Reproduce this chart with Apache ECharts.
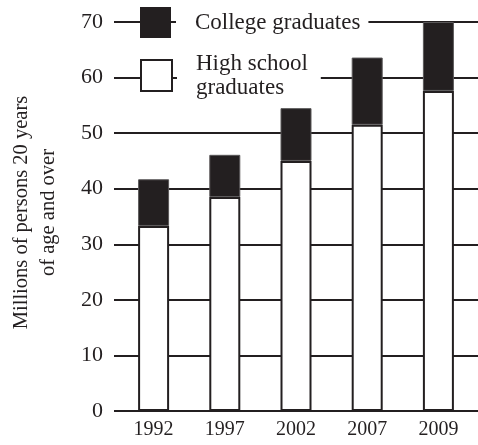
<!DOCTYPE html>
<html>
<head>
<meta charset="utf-8">
<script src="https://cdn.jsdelivr.net/npm/echarts@6/dist/echarts.min.js"></script>
<style>html,body{margin:0;padding:0;background:#fff}#c{width:478px;height:445px}</style>
</head>
<body>
<div id="c"></div>
<script>
const years = ['1992', '1997', '2002', '2007', '2009'];
const highSchool = [33.3, 38.5, 45.0, 51.5, 57.6];
const college = [8.4, 7.6, 9.5, 12.1, 12.4];
const yTicks = { min: 0, max: 70, interval: 10 };
const yName = 'Millions of persons 20 years\nof age and over';

const INK = '#231f20';
const FONT = '"Liberation Serif", "Times New Roman", serif';

const chart = echarts.init(document.getElementById('c'), null, { renderer: 'canvas' });
chart.setOption({
  animation: false,
  backgroundColor: '#fff',
  grid: [
    { left: 108, right: 0, top: 22, bottom: 34 },
    { left: 118, right: 4, top: 22, bottom: 34 }
  ],
  xAxis: [
    { gridIndex: 0, type: 'category', data: years, show: false },
    {
      gridIndex: 1, type: 'category', data: years,
      axisLine: { show: false }, axisTick: { show: false },
      axisLabel: { color: INK, fontFamily: FONT, fontSize: 20, margin: 9 }
    }
  ],
  yAxis: [
    {
      gridIndex: 0, type: 'value', min: yTicks.min, max: yTicks.max, interval: yTicks.interval,
      axisLine: { show: false }, axisTick: { show: false },
      axisLabel: { color: INK, fontFamily: FONT, fontSize: 22, margin: 11 },
      splitLine: { show: true, lineStyle: { color: INK, width: 2 } },
      name: yName, nameLocation: 'middle', nameRotate: 90, nameGap: 52,
      nameTextStyle: { color: INK, fontFamily: FONT, fontSize: 20.5, lineHeight: 27, padding: [0, 0, 0, 8] }
    },
    { gridIndex: 1, type: 'value', min: yTicks.min, max: yTicks.max, interval: yTicks.interval, show: false }
  ],
  legend: [
    {
      left: 140, top: 7, padding: 0, itemWidth: 31, itemHeight: 31, selectedMode: false,
      icon: 'rect',
      data: ['College graduates'],
      itemStyle: { color: INK, borderColor: INK, borderWidth: 0 },
      textStyle: { color: INK, fontFamily: FONT, fontSize: 23, backgroundColor: '#fff', padding: [0, 8, 0, 19] }
    },
    {
      left: 140, top: 51.5, padding: 0, itemWidth: 31, itemHeight: 31, selectedMode: false,
      icon: 'rect',
      data: ['High school graduates'],
      formatter: () => 'High school\ngraduates',
      itemStyle: { color: '#fff', borderColor: INK, borderWidth: 2 },
      textStyle: { color: INK, fontFamily: FONT, fontSize: 23, lineHeight: 24, backgroundColor: '#fff', padding: [0, 13, 0, 19] }
    }
  ],
  series: [
    {
      name: 'High school graduates', type: 'bar', stack: 'total',
      xAxisIndex: 1, yAxisIndex: 1, barWidth: 31,
      itemStyle: { color: '#fff', borderColor: INK, borderWidth: 2 },
      data: highSchool
    },
    {
      name: 'College graduates', type: 'bar', stack: 'total',
      xAxisIndex: 1, yAxisIndex: 1, barWidth: 31,
      itemStyle: { color: INK, borderColor: '#5a5859', borderWidth: 1 },
      data: college
    }
  ]
});
</script>
</body>
</html>
